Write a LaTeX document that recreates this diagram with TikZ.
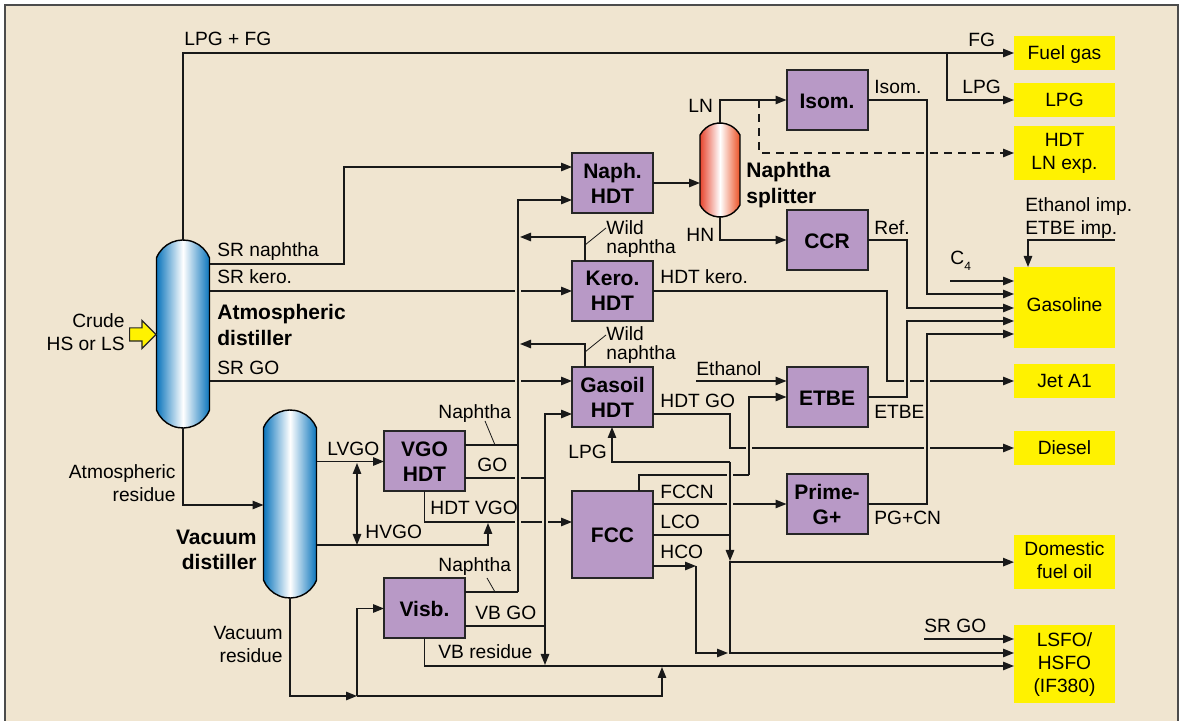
\documentclass[tikz,border=0pt]{standalone}
\usepackage{fontspec}
\setmainfont{Liberation Sans}
\usepackage{xcolor}
\usepackage{tikz}
\usetikzlibrary{shapes,shapes.misc,shapes.arrows,arrows.meta,positioning}
\definecolor{bgbeige}{HTML}{F0E5D0}
\definecolor{unitpurple}{HTML}{B899C6}
\definecolor{prodyellow}{HTML}{FFF200}
\definecolor{colblue}{HTML}{0B75BC}
\definecolor{colred}{HTML}{E6452E}

\begin{document}
\begin{tikzpicture}[
    x=0.5pt, y=-0.5pt,
    >={Triangle[length=5.5pt,width=4.2pt]},
    unit/.style={rectangle, draw=black!85, line width=1pt, fill=unitpurple, outer sep=0pt,
                 minimum width=40.5pt, minimum height=30pt, align=center,
                 font=\bfseries\fontsize{10.5}{12.5}\selectfont},
    unitone/.style={unit, align=none, text height=9.5pt, text depth=1pt},
    prod/.style={rectangle, fill=prodyellow, outer sep=0pt, minimum width=50.5pt,
                 font=\fontsize{9.6}{11.5}\selectfont},
    prodone/.style={prod, minimum height=17pt, text height=8pt, text depth=1.1pt},
    prodmany/.style={prod, align=center},
    column/.style={rounded rectangle, rotate=90, draw=black, line width=0.7pt, outer sep=0pt,
                 inner sep=0pt, minimum height=26.5pt, minimum width=94pt,
                 rounded rectangle arc length=136, left color=colblue, right color=colblue,
                 middle color=white},
    lbl/.style={inner sep=0pt, anchor=west, align=left, font=\fontsize{9.6}{11.5}\selectfont},
    rlbl/.style={inner sep=0pt, anchor=east, align=right, font=\fontsize{9.6}{11.5}\selectfont},
    blbl/.style={inner sep=0pt, anchor=west, align=left, font=\bfseries\fontsize{10.5}{12.7}\selectfont},
    arr/.style={->, line width=0.8pt, black!90},
    line/.style={line width=0.8pt, black!90},
    cut/.style={line width=1.6pt, bgbeige},
    leader/.style={line width=0.4pt, black!90}
]
    \useasboundingbox (0,0) rectangle (1180,721);
    \fill[bgbeige] (5,5) rectangle (1178,721);
    \draw[black!70, line width=0.6pt] (5,721) -- (5,5) -- (1178,5) -- (1178,721);

    % columns
    \node[column] (Atm) at (183,334) {};
    \node[column] (Vac) at (290,504) {};
    \node[column, minimum height=20pt, minimum width=47pt, rounded rectangle arc length=124,
          left color=colred, right color=colred!80!orange, middle color=white] (Split) at (720,170) {};
    \node[single arrow, draw=black!85, line width=0.6pt, fill=prodyellow, inner sep=0pt, outer sep=0pt,
          text height=6pt, text depth=0pt, minimum height=13.2pt, single arrow head extend=3.75pt,
          single arrow head indent=0pt, anchor=tip] (Feed) at (156,334.5) {};

    % process units
    \node[unit] (Naph) at (612.5,183) {Naph.\\HDT};
    \node[unit, below=24pt of Naph] (Kero) {Kero.\\HDT};
    \node[unit, below=23pt of Kero] (Gasoil) {Gasoil\\HDT};
    \node[unitone, below=32pt of Gasoil, minimum height=43.5pt] (FCC) {FCC};
    \node[unit] (VGO) at (424.5,461.5) {VGO\\HDT};
    \node[unitone, below=43.5pt of VGO] (Visb) {Visb.};
    \node[unitone] (Isom) at (827,100) {Isom.};
    \node[unitone, below=40pt of Isom] (CCR) {CCR};
    \node[unitone, below=48.5pt of CCR] (ETBE) {ETBE};
    \node[unit, below=23.5pt of ETBE] (Prime) {Prime-\\G+};

    % products
    \node[prodone] (Fuel) at (1064.5,53) {Fuel gas};
    \node[prodone, below=6.5pt of Fuel] (LPG) {LPG};
    \node[prodmany, minimum height=27pt, below=4.5pt of LPG] (LNexp) {HDT\\LN exp.};
    \node[prod, minimum height=40.5pt, text height=6.5pt, text depth=2.6pt, below=43.5pt of LNexp] (Gas) {Gasoline};
    \node[prodone, below=8pt of Gas] (Jet) {Jet A1};
    \node[prodone, below=16.5pt of Jet] (Diesel) {Diesel};
    \node[prodmany, minimum height=27pt, below=35pt of Diesel] (Dom) {Domestic\\fuel oil\rule[-2pt]{0pt}{0pt}};
    \node[prodmany, minimum height=39pt, below=18pt of Dom] (LSFO) {LSFO/\\HSFO\\(IF380)};

    % streams that get crossed
    \draw[arr] (Atm.south |- 0,264) -- (344,264) |- (Naph.west |- 0,167);
    \draw[arr] (Atm.south |- Kero.west) -- (Kero.west);
    \draw[arr] (Atm.south |- 0,381) -- (Gasoil.west |- 0,381);
    \draw[line] (VGO.east |- 0,478) -- (545,478);
    \draw[arr] (VGO.south) |- (FCC.west |- 0,522);
    \draw[arr] (Kero.east) -| (887,381) |- (Jet.west);
    \draw[arr] (Gasoil.east |- 0,414) -- (730,414) |- (Diesel.west);
    \draw[line] (FCC.north -| 639,0) |- (749,475);
    \draw[arr] (FCC.east |- Prime.west) -- (Prime.west);

    % gaps where a line passes over
    \foreach \x/\y in {518/291,518/381,518/478,518/522,545/522,730/475,730/505,749/448,927/448,907/381,927/381}
        \draw[cut] (\x-3,\y) -- (\x+3,\y);

    % streams on top
    \draw[arr] (Atm.east) |- (Fuel.west);
    \draw[arr] (947,53) |- (LPG.west);
    \draw[arr] (Atm.west) |- (Vac.north |- 0,505);
    \draw[arr] (Vac.south |- VGO.west) -- (VGO.west);
    \draw[arr] (Vac.south |- 0,545) -- (488,545) -- (488,523);
    \draw[arr, <->] (357,463) -- (357,545);
    \draw[arr] (Vac.west) |- (357,696);
    \draw[arr] (357,696) |- (Visb.west);
    \draw[arr] (357,696) -| (662,667);
    \draw[arr] (Visb.south) |- (LSFO.west |- 0,666);
    \draw[arr] (518,592) |- (Naph.west |- 0,200);
    \draw[line] (VGO.east |- 0,445) -- (518,445);
    \draw[line] (Visb.east |- 0,592) -- (518,592);
    \draw[arr] (Kero.north -| 585,0) |- (520,237);
    \draw[arr] (Gasoil.north -| 585,0) |- (520,344);
    \draw[arr] (545,478) |- (Gasoil.west |- 0,414);
    \draw[arr] (545,478) -- (545,665);
    \draw[line] (Visb.east |- 0,626) -- (545,626);
    \draw[arr] (Naph.east) -- (Split.north |- Naph.east);
    \draw[arr] (Split.east) |- (Isom.west);
    \draw[arr] (Split.west) |- (CCR.west);
    \draw[arr, dashed, dash pattern=on 4pt off 3pt] (759,100) |- (LNexp.west);
    \draw[arr] (Isom.east) -| (927,294) -- (Gas.west |- 0,294);
    \draw[arr] (CCR.east) -| (907,308) -- (Gas.west |- 0,308);
    \draw[arr] (ETBE.east) -| (907,321) -- (Gas.west |- 0,321);
    \draw[arr] (Prime.east) -| (927,334) -- (Gas.west |- 0,334);
    \coordinate (C4in) at (950,281);
    \draw[arr] (C4in) -- (Gas.west |- C4in);
    \coordinate (Impin) at (1115,240);
    \draw[arr] (Impin) -| (Gas.north -| 1028,0);
    \coordinate (Ethin) at (696,381);
    \draw[arr] (Ethin) -- (ETBE.west |- Ethin);
    \draw[arr] (749,475) |- (ETBE.west);
    \draw[arr] (730,462) -| (Gasoil.south -| 612,0);
    \draw[arr] (730,462) -- (730,561);
    \draw[arr] (730,561) |- (Dom.west);
    \draw[arr] (730,561) |- (LSFO.west |- 0,653);
    \draw[line] (FCC.east |- 0,535) -- (730,535);
    \draw[arr] (FCC.east |- 0,566) -- (696,566);
    \draw[arr] (696,566) |- (728,653);
    \coordinate (SRin) at (924,639);
    \draw[arr] (SRin) -- (LSFO.west |- SRin);

    % leaders
    \draw[leader] (585,245) -- (606,228);
    \draw[leader] (585,352) -- (606,335);
    \draw[leader] (485,421) -- (495,445);
    \draw[leader] (487,578) -- (495,592);

    % bold labels
    \node[blbl] (tAtm) at (217,325) {Atmospheric\\distiller};
    \node[blbl, anchor=east, align=right] (tVac) at (257,550) {Vacuum\\distiller};
    \node[blbl] (tSplit) at (746,185) {Naphtha\\splitter};

    % stream labels
    \node[rlbl] (tCrude) at (125,332) {Crude\\HS or LS};
    \node[lbl] (tTop) at (184,39) {LPG + FG};
    \node[lbl] (tFG) at (968,40) {FG};
    \node[lbl] (tLPG) at (962,87) {LPG};
    \node[lbl] (tIsom) at (874,87) {Isom.};
    \node[lbl] (tRef) at (874,228) {Ref.};
    \node[lbl] (tLN) at (688,106) {LN};
    \node[lbl] (tHN) at (686,235) {HN};
    \node[lbl] (tImp) at (1025,218) {Ethanol imp.\\ETBE imp.};
    \node[lbl] (tC) at (950,261) {C\raisebox{-3pt}{\fontsize{6}{6}\selectfont 4}};
    \node[lbl] (tSRn) at (217,252) {SR naphtha};
    \node[lbl] (tSRk) at (217,277) {SR kero.};
    \node[lbl] (tSRg) at (217,368) {SR GO};
    \node[lbl, font=\fontsize{9.6}{9.7}\selectfont] (tWild) at (606,239) {Wild\\naphtha};
    \node[lbl, font=\fontsize{9.6}{9.7}\selectfont] (tWildb) at (606,345) {Wild\\naphtha};
    \node[lbl] (tHk) at (660,277) {HDT kero.};
    \node[lbl] (tHg) at (660,401) {HDT GO};
    \node[lbl] (tEth) at (696,369) {Ethanol};
    \node[lbl] (tETBE) at (874,412) {ETBE};
    \node[lbl] (tPG) at (874,518) {PG+CN};
    \node[lbl] (tFCCN) at (660,492) {FCCN};
    \node[lbl] (tLCO) at (660,522) {LCO};
    \node[lbl] (tHCO) at (660,552) {HCO};
    \node[lbl] (tLPGb) at (568,452) {LPG};
    \node[rlbl] (tAres) at (176,483) {Atmospheric\\residue};
    \node[rlbl] (tVres) at (283,644) {Vacuum\\residue};
    \node[lbl] (tLV) at (327,449) {LVGO};
    \node[lbl] (tHV) at (365,532) {HVGO};
    \node[lbl] (tNa) at (438,414) {Naphtha};
    \node[lbl] (tNb) at (438,567) {Naphtha};
    \node[lbl] (tGO) at (477,465) {GO};
    \node[lbl] (tHVGO) at (430,508) {HDT VGO};
    \node[lbl] (tVBg) at (475,613) {VB GO};
    \node[lbl] (tVBr) at (438,652) {VB residue};
    \node[lbl] (tSRb) at (924,626) {SR GO};
\end{tikzpicture}
\end{document}
